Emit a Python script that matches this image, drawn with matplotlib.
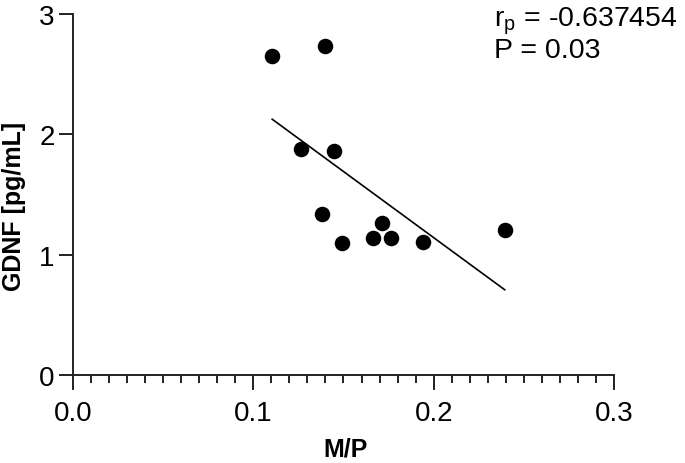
import numpy as np
import matplotlib
matplotlib.use("Agg")
import matplotlib.pyplot as plt
from matplotlib.ticker import MultipleLocator

# Data
mp_ratio = [0.1105, 0.1400, 0.1262, 0.1448, 0.1383, 0.1494, 0.1665, 0.1716, 0.1762, 0.1943, 0.2393]
gdnf = [2.65, 2.73, 1.88, 1.86, 1.34, 1.10, 1.14, 1.26, 1.136, 1.108, 1.205]
x_ticks = [0.0, 0.1, 0.2, 0.3]
x_tick_labels = ["0.0", "0.1", "0.2", "0.3"]
y_ticks = [0, 1, 2, 3]
y_tick_labels = ["0", "1", "2", "3"]
r_text = "-0.637454"
p_text = "0.03"

plt.rcParams['font.family'] = ['Liberation Sans', 'DejaVu Sans']

fig = plt.figure(figsize=(6.85, 4.64), dpi=100)
ax = fig.add_axes([72.7/685, 1 - 376/464, (614.3-72.7)/685, (376-14.7)/464])

x = np.array(mp_ratio)
y = np.array(gdnf)
slope, intercept = np.polyfit(x, y, 1)
xl = np.array([x.min(), x.max()])
ax.plot(xl, slope*xl + intercept, color='black', lw=1.2, zorder=2)
ax.scatter(x, y, s=125, color='black', zorder=3, linewidths=0)

ax.set_xlim(0, 0.3)
ax.set_ylim(0, 3)
ax.set_xticks(x_ticks)
ax.set_xticklabels(x_tick_labels)
ax.set_yticks(y_ticks)
ax.set_yticklabels(y_tick_labels)
ax.xaxis.set_minor_locator(MultipleLocator(0.01))

for s in ['top', 'right']:
    ax.spines[s].set_visible(False)
for s in ['left', 'bottom']:
    ax.spines[s].set_linewidth(1.4)
    ax.spines[s].set_color('#222222')

ax.tick_params(axis='x', which='major', length=11, width=1.4, pad=7, labelsize=20, color='#222222')
ax.tick_params(axis='x', which='minor', length=6, width=1.4, color='#222222')
ax.tick_params(axis='y', which='major', length=10, width=1.4, pad=3, labelsize=20, color='#222222')

ax.set_xlabel("M/P", fontsize=18, fontweight='bold')
ax.set_ylabel("GDNF [pg/mL]", fontsize=18, fontweight='bold')
ax.xaxis.set_label_coords(0.503, -0.203)
ax.xaxis.label.set_va('center')
ax.yaxis.set_label_coords(-0.108, 0.468)
ax.yaxis.label.set_va('center')

fig.text(494/685, 1 - 26/464, r"r$_\mathregular{p}$ = " + r_text, fontsize=20.5, ha='left', va='baseline')
fig.text(494/685, 1 - 58/464, "P = " + p_text, fontsize=20.5, ha='left', va='baseline')

fig.savefig("out.png", dpi=100)
